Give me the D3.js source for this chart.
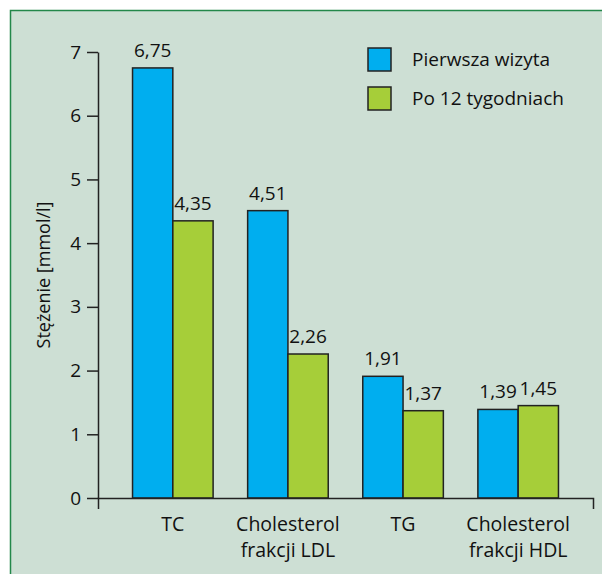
<!DOCTYPE html>
<html>
<head>
<meta charset="utf-8">
<script src="https://cdn.jsdelivr.net/npm/d3@7"></script>
<style>
  body { margin: 0; background: #fff; }
  text { font-family: 'Open Sans', sans-serif; fill: #111; }
</style>
</head>
<body>
<div id="chart"></div>
<script>
var categories = ["TC", "Cholesterol\nfrakcji LDL", "TG", "Cholesterol\nfrakcji HDL"];
var series = ["Pierwsza wizyta", "Po 12 tygodniach"];
var firstVisit = [6.75, 4.51, 1.91, 1.39];
var after12Weeks = [4.35, 2.26, 1.37, 1.45];
var yTicks = [0, 1, 2, 3, 4, 5, 6, 7];

var colors = ["#00aeef", "#a6ce39"];

var fullWidth = 602;
var fullHeight = 574;

// rows for the grouped bars
var rows = [];
categories.forEach(function(c, i) {
  rows.push({cat: c, s: series[0], v: firstVisit[i]});
  rows.push({cat: c, s: series[1], v: after12Weeks[i]});
});

var svg = d3.select('#chart').append('svg')
  .attr('width', fullWidth)
  .attr('height', fullHeight);

// panel background with green frame
svg.append('rect')
  .attr('x', 10.5)
  .attr('y', 10.5)
  .attr('width', 620)
  .attr('height', 600)
  .attr('fill', '#cddfd4')
  .attr('stroke', '#23874a')
  .attr('stroke-width', 1.5);

var xScale = d3.scaleBand()
  .domain(categories)
  .range([98, 593])
  .paddingInner(0.3)
  .paddingOuter(0.3);

var subScale = d3.scaleBand()
  .domain(series)
  .range([0, xScale.bandwidth()]);

var yScale = d3.scaleLinear()
  .domain([0, 7])
  .range([498, 52]);

var colorScale = d3.scaleOrdinal()
  .domain(series)
  .range(colors);

var fmt = d3.formatLocale({decimal: ",", thousands: " ", grouping: [3], currency: ["", ""]}).format(".2f");

// bars
svg.append('g').selectAll('rect')
    .data(rows)
  .enter().append('rect')
    .attr('x', function(d) { return xScale(d.cat) + subScale(d.s); })
    .attr('width', subScale.bandwidth())
    .attr('y', function(d) { return yScale(d.v); })
    .attr('height', function(d) { return yScale(0) - yScale(d.v); })
    .attr('fill', function(d) { return colorScale(d.s); })
    .attr('stroke', '#222')
    .attr('stroke-width', 1.5);

// value labels
svg.append('g').selectAll('text')
    .data(rows)
  .enter().append('text')
    .attr('x', function(d) { return xScale(d.cat) + subScale(d.s) + subScale.bandwidth() / 2; })
    .attr('y', function(d) { return yScale(d.v) - 11; })
    .attr('text-anchor', 'middle')
    .style('font-size', '19px')
    .text(function(d) { return fmt(d.v); });

// y axis
var yAxis = d3.axisLeft(yScale)
  .tickValues(yTicks)
  .tickFormat(d3.format('d'))
  .tickSize(11)
  .tickSizeOuter(0)
  .tickPadding(6);

var yG = svg.append('g')
  .attr('transform', 'translate(98,0)')
  .call(yAxis);
yG.select('.domain').attr('stroke', '#222').attr('stroke-width', 1.5);
yG.selectAll('.tick line').attr('stroke', '#222').attr('stroke-width', 1.5);
yG.selectAll('.tick text')
  .style('font-size', '19px')
  .style('font-family', "'Open Sans', sans-serif")
  .attr('fill', '#111');

// x axis, ends hook downwards
var xAxis = d3.axisBottom(xScale)
  .tickSizeInner(0)
  .tickSizeOuter(11)
  .tickPadding(0)
  .tickFormat('');

var xG = svg.append('g')
  .attr('transform', 'translate(0,498)')
  .call(xAxis);
xG.select('.domain').attr('stroke', '#222').attr('stroke-width', 1.5);

xG.selectAll('.tick').each(function(d) {
  var t = d3.select(this).append('text')
    .attr('text-anchor', 'middle')
    .attr('fill', '#111')
    .style('font-size', '19.5px')
    .style('font-family', "'Open Sans', sans-serif");
  d.split('\n').forEach(function(line, i) {
    t.append('tspan')
      .attr('x', 0)
      .attr('y', 33 + i * 26)
      .text(line);
  });
});

// y axis title
svg.append('text')
  .attr('transform', 'translate(50,' + ((yScale(0) + yScale(7)) / 2) + ') rotate(-90)')
  .attr('text-anchor', 'middle')
  .style('font-size', '18px')
  .text('Stężenie [mmol/l]');

// legend
var legend = svg.append('g')
  .attr('transform', 'translate(368,48)');

var item = legend.selectAll('g')
    .data(series)
  .enter().append('g')
    .attr('transform', function(d, i) { return 'translate(0,' + (i * 39) + ')'; });

item.append('rect')
  .attr('width', 23)
  .attr('height', 23)
  .attr('fill', function(d) { return colorScale(d); })
  .attr('stroke', '#222')
  .attr('stroke-width', 1.5);

item.append('text')
  .attr('x', 44)
  .attr('y', 18)
  .style('font-size', '19px')
  .text(function(d) { return d; });
</script>
</body>
</html>
